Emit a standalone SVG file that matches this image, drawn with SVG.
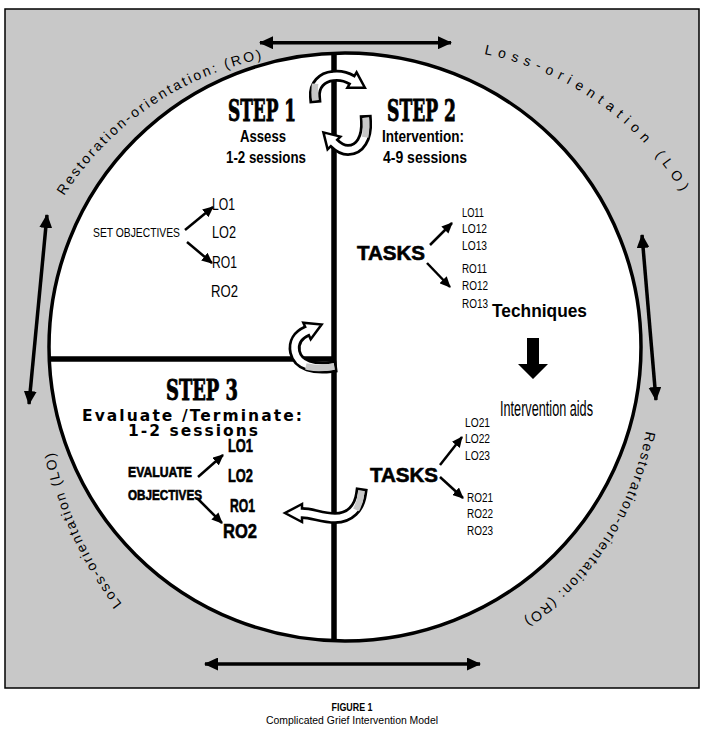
<svg xmlns="http://www.w3.org/2000/svg" width="705" height="734" viewBox="0 0 705 734">
<style>
.bg{fill:#c8c8c8;stroke:#000;stroke-width:1.5}
.circ{fill:#fff;stroke:#000;stroke-width:3.5}
.div{stroke:#000;stroke-width:5.5;fill:none}
.big{stroke:#000;stroke-width:3.5;fill:none}
.sm{stroke:#000;stroke-width:2.5;fill:none}
.step{font-family:"DejaVu Serif","Liberation Serif",serif;font-weight:bold;stroke:#000;stroke-width:0.9}
.nb{font-family:"Liberation Sans",Arial,sans-serif;font-weight:bold}
.hv{stroke:#000;stroke-width:0.6}
.n{font-family:"Liberation Sans",Arial,sans-serif}
.wide{font-family:"DejaVu Sans",Verdana,sans-serif;font-weight:bold}
.arc{font-family:"Liberation Sans",Arial,sans-serif;font-size:14px}
.cb{stroke:#000;stroke-width:12;fill:none;stroke-linecap:square}
.cw{stroke:#fff;stroke-width:6.5;fill:none;stroke-linecap:square}
.cg{stroke:#c8c8c8;stroke-width:6.5;fill:none;stroke-linecap:square}
.ch{fill:#fff;stroke:#000;stroke-width:2.5;stroke-linejoin:miter}
</style>
<defs>
<marker id="mb" viewBox="0 0 14 13" refX="13" refY="6.5" markerWidth="14" markerHeight="13" markerUnits="userSpaceOnUse" orient="auto-start-reverse"><path d="M0,0L14,6.5L0,13z"/></marker>
<marker id="ms" viewBox="0 0 11 10" refX="10" refY="5" markerWidth="11" markerHeight="10" markerUnits="userSpaceOnUse" orient="auto"><path d="M0,0L11,5L0,10z"/></marker>
<path id="p1" d="M64,196 A312,312 0 0 1 315.8,52.3"/>
<path id="p2" d="M484,54 A300,300 0 0 1 697.4,221.4"/>
<path id="p3" d="M646,431 A290,290 0 0 1 459.7,652.3"/>
<path id="p4" d="M122,604 A350,350 0 0 1 49.7,358.6"/>
</defs>

<rect class="bg" x="5" y="9" width="694" height="679"/>
<ellipse class="circ" cx="345" cy="347" rx="296" ry="294"/>
<line class="div" x1="334" y1="53" x2="334" y2="641"/>
<line class="div" x1="48" y1="359" x2="334" y2="359"/>

<g id="orientation-labels">
<text class="arc" letter-spacing="2.4"><textPath href="#p1">Restoration-orientation: (RO)</textPath></text>
<text class="arc" letter-spacing="5.8"><textPath href="#p2">Loss-orientation (LO)</textPath></text>
<text class="arc" letter-spacing="1.8"><textPath href="#p3">Restoration-orientation: (RO)</textPath></text>
<text class="arc" letter-spacing="1.8"><textPath href="#p4">Loss-orientation (LO)</textPath></text>
</g>

<g id="connectors">
<path class="big" d="M260,42.7 L451,42.7" marker-start="url(#mb)" marker-end="url(#mb)"/>
<path class="big" d="M205,664 L480,664" marker-start="url(#mb)" marker-end="url(#mb)"/>
<path class="big" d="M47,215 L29,404" marker-start="url(#mb)" marker-end="url(#mb)"/>
<path class="big" d="M642,235 L656,400" marker-start="url(#mb)" marker-end="url(#mb)"/>
<path class="sm" d="M185,230 L213,207" marker-end="url(#ms)"/>
<path class="sm" d="M187,242 L212,263" marker-end="url(#ms)"/>
<path class="sm" d="M430,245 L452,223" marker-end="url(#ms)"/>
<path class="sm" d="M427,263 L450,287" marker-end="url(#ms)"/>
<path class="sm" d="M440,465 L462,437" marker-end="url(#ms)"/>
<path class="sm" d="M440,477 L463,498" marker-end="url(#ms)"/>
<path class="sm" d="M198,477 L223,455" marker-end="url(#ms)"/>
<path class="sm" d="M197,498 L222,523" marker-end="url(#ms)"/>
<polygon points="527,338 539,338 539,364 548,364 533,379 518,364 527,364" fill="#000"/>
<g id="cycle-1-2">
<path class="cb" d="M315,97 C314,85 322,77 333,76 C341,75 347,77 352,80"/>
<polygon class="ch" points="356.6,72.3 364.9,87.7 347.4,87.7"/>
<path class="cw" d="M315,97 C314,85 322,77 333,76 C341,75 347,77 352,80"/>
<path class="cg" d="M315,97 C314.6,93 314.5,90 314.8,87"/>
</g>
<g id="cycle-2-1">
<path class="cb" d="M366,121 C367,138 360,150 348,150 C342,150 338,147 334,143"/>
<polygon class="ch" points="340.4,136.6 323.4,132.4 327.6,149.4"/>
<path class="cw" d="M366,121 C367,138 360,150 348,150 C342,150 338,147 334,143"/>
<path class="cg" d="M366,121 C366.3,126 366.2,130 365.6,134"/>
</g>
<g id="cycle-3-1">
<path class="cb" d="M331,367 C315,369 298,366 295,352 C293,342 298,335 307,331"/>
<polygon class="ch" points="310.7,339.2 321.6,324.5 303.3,322.8"/>
<path class="cw" d="M331,367 C315,369 298,366 295,352 C293,342 298,335 307,331"/>
<path class="cg" d="M331,367 C324,368 316,368.5 309,367"/>
</g>
<g id="cycle-2-3">
<path class="cb" d="M361,494 C359,508 350,518 335,518 C322,518 312,513 302,513"/>
<polygon class="ch" points="302,504 285,513 302,522"/>
<path class="cw" d="M361,494 C359,508 350,518 335,518 C322,518 312,513 302,513"/>
<path class="cg" d="M361,494 C360.5,499 359.5,503 357.5,507"/>
</g>
</g>

<g id="step1">
<text class="step" x="228" y="121" font-size="29" textLength="68" lengthAdjust="spacingAndGlyphs">STEP 1</text>
<text class="nb" x="240" y="142" font-size="17" textLength="46" lengthAdjust="spacingAndGlyphs">Assess</text>
<text class="nb" x="226" y="163" font-size="17" textLength="80" lengthAdjust="spacingAndGlyphs">1-2 sessions</text>
</g>
<g id="step2">
<text class="step" x="387" y="121" font-size="29" textLength="69" lengthAdjust="spacingAndGlyphs">STEP 2</text>
<text class="nb" x="382" y="142" font-size="17" textLength="82" lengthAdjust="spacingAndGlyphs">Intervention:</text>
<text class="nb" x="383" y="163" font-size="17" textLength="84" lengthAdjust="spacingAndGlyphs">4-9 sessions</text>
</g>
<g id="set-objectives">
<text class="n" x="93" y="237" font-size="13" textLength="87" lengthAdjust="spacingAndGlyphs">SET OBJECTIVES</text>
<text class="n" x="212" y="210" font-size="17" textLength="23" lengthAdjust="spacingAndGlyphs">LO1</text>
<text class="n" x="212" y="238" font-size="17" textLength="24" lengthAdjust="spacingAndGlyphs">LO2</text>
<text class="n" x="212" y="268" font-size="17" textLength="25" lengthAdjust="spacingAndGlyphs">RO1</text>
<text class="n" x="211" y="297" font-size="17" textLength="27" lengthAdjust="spacingAndGlyphs">RO2</text>
</g>
<g id="tasks-1">
<text class="nb hv" x="357" y="260" font-size="20" textLength="68" lengthAdjust="spacingAndGlyphs">TASKS</text>
<text class="n" x="462" y="217" font-size="12" textLength="22" lengthAdjust="spacingAndGlyphs">LO11</text>
<text class="n" x="462" y="233" font-size="12" textLength="25" lengthAdjust="spacingAndGlyphs">LO12</text>
<text class="n" x="462" y="250" font-size="12" textLength="25" lengthAdjust="spacingAndGlyphs">LO13</text>
<text class="n" x="462" y="273" font-size="12" textLength="25" lengthAdjust="spacingAndGlyphs">RO11</text>
<text class="n" x="462" y="290" font-size="12" textLength="26" lengthAdjust="spacingAndGlyphs">RO12</text>
<text class="n" x="462" y="308" font-size="12" textLength="26" lengthAdjust="spacingAndGlyphs">RO13</text>
</g>
<g id="techniques">
<text class="nb" x="492" y="317" font-size="19" textLength="95" lengthAdjust="spacingAndGlyphs">Techniques</text>
<text class="n" x="500" y="416" font-size="22" textLength="93" lengthAdjust="spacingAndGlyphs">Intervention aids</text>
</g>
<g id="tasks-2">
<text class="nb hv" x="370" y="482" font-size="20" textLength="68" lengthAdjust="spacingAndGlyphs">TASKS</text>
<text class="n" x="465" y="427" font-size="12" textLength="25" lengthAdjust="spacingAndGlyphs">LO21</text>
<text class="n" x="465" y="443" font-size="12" textLength="25" lengthAdjust="spacingAndGlyphs">LO22</text>
<text class="n" x="465" y="460" font-size="12" textLength="25" lengthAdjust="spacingAndGlyphs">LO23</text>
<text class="n" x="467" y="502" font-size="12" textLength="26" lengthAdjust="spacingAndGlyphs">RO21</text>
<text class="n" x="467" y="518" font-size="12" textLength="26" lengthAdjust="spacingAndGlyphs">RO22</text>
<text class="n" x="467" y="535" font-size="12" textLength="26" lengthAdjust="spacingAndGlyphs">RO23</text>
</g>
<g id="step3">
<text class="step" x="166" y="400" font-size="28" textLength="72" lengthAdjust="spacingAndGlyphs">STEP 3</text>
<text class="wide" x="82" y="421" font-size="15.5" textLength="220" lengthAdjust="spacing">Evaluate /Terminate:</text>
<text class="wide" x="128" y="436" font-size="15.5" textLength="130" lengthAdjust="spacing">1-2 sessions</text>
</g>
<g id="evaluate-objectives">
<text class="nb hv" x="128" y="477" font-size="14" textLength="64" lengthAdjust="spacingAndGlyphs">EVALUATE</text>
<text class="nb hv" x="128" y="500" font-size="14" textLength="74" lengthAdjust="spacingAndGlyphs">OBJECTIVES</text>
<text class="nb hv" x="228" y="452" font-size="19" textLength="25" lengthAdjust="spacingAndGlyphs">LO1</text>
<text class="nb hv" x="228" y="482" font-size="19" textLength="25" lengthAdjust="spacingAndGlyphs">LO2</text>
<text class="nb hv" x="230" y="512" font-size="19" textLength="25" lengthAdjust="spacingAndGlyphs">RO1</text>
<text class="nb hv" x="223" y="538" font-size="20" textLength="34" lengthAdjust="spacingAndGlyphs">RO2</text>
</g>
<g id="caption">
<text class="nb" x="352" y="711" font-size="11.5" text-anchor="middle" textLength="41" lengthAdjust="spacingAndGlyphs">FIGURE 1</text>
<text class="n" x="352" y="724" font-size="11" text-anchor="middle" textLength="172" lengthAdjust="spacingAndGlyphs">Complicated Grief Intervention Model</text>
</g>
</svg>
